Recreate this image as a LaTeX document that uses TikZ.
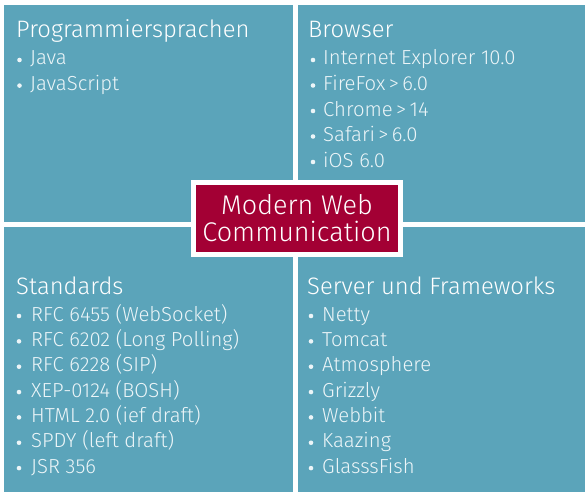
\documentclass[tikz,border=0pt]{standalone}
\usepackage{fontspec}
\setmainfont{Fira Sans}[UprightFont={* Light}]
\definecolor{qteal}{RGB}{91,164,186}
\definecolor{qred}{RGB}{163,0,52}
\definecolor{itemc}{RGB}{236,245,248}
\begin{document}
\begin{tikzpicture}[x=1pt,y=-1pt,
  quad/.style={fill=qteal, draw=none},
  head/.style={anchor=base west, inner sep=0pt, text=white, font=\fontsize{23.8}{27}\selectfont},
  item/.style={anchor=base west, inner sep=0pt, text=itemc, font=\fontsize{20.3}{24}\selectfont},
  bul/.style={fill=itemc, draw=none},
  hubbox/.style={fill=qred, draw=white, line width=5pt, minimum width=207pt, minimum height=72pt,
    text=white, align=center, inner sep=0pt, font=\fontsize{27}{27}\selectfont}
]
\useasboundingbox (0,0) rectangle (585,492);
\fill[white] (0,0) rectangle (585,492);
% quadrants
\fill[quad] (4,5) rectangle (293,222);
\fill[quad] (298,5) rectangle (585,222);
\fill[quad] (4,227) rectangle (293,492);
\fill[quad] (298,227) rectangle (585,492);
% headers
\node[head] (h1) at (16,38) {Programmiersprachen};
\node[head] (h2) at (308,38) {Browser};
\node[head] (h3) at (16,294) {Standards};
\node[head] (h4) at (307,294) {Server und Frameworks};
% lists
\foreach \t [count=\i from 0] in {Java, JavaScript} {
  \node[item] (pl\i) at (30,65+25.6*\i) {\t};
  \fill[bul] (19.5,60+25.6*\i) circle (2.3);
}
\foreach \t [count=\i from 0] in {Internet Explorer 10.0, FireFox\,>\,6.0, Chrome\,>\,14, Safari\,>\,6.0, iOS 6.0} {
  \node[item] (br\i) at (323,65+25.5*\i) {\t};
  \fill[bul] (313,60+25.5*\i) circle (2.3);
}
\foreach \t [count=\i from 0] in {RFC 6455 (WebSocket), RFC 6202 (Long Polling), RFC 6228 (SIP), XEP-0124 (BOSH), HTML 2.0 (ief draft), SPDY (left draft), JSR 356} {
  \node[item] (st\i) at (31,321+25.35*\i) {\t};
  \fill[bul] (19,316+25.35*\i) circle (2.3);
}
\foreach \t [count=\i from 0] in {Netty, Tomcat, Atmosphere, Grizzly, Webbit, Kaazing, GlasssFish} {
  \node[item] (sv\i) at (322,321+25.35*\i) {\t};
  \fill[bul] (311,316+25.35*\i) circle (2.3);
}
% centre
\node[hubbox] (hub) at (297,218.5) {Modern Web\\Communication};
\end{tikzpicture}
\end{document}
